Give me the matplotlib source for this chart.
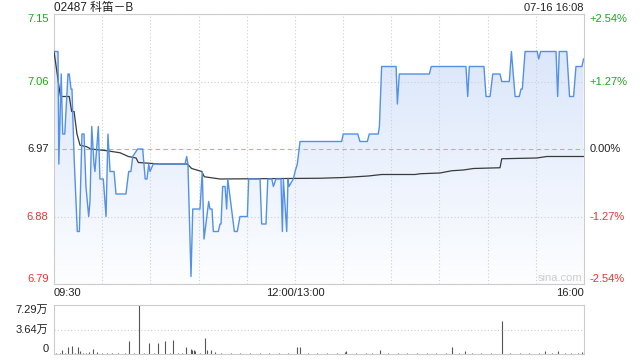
import numpy as np
import matplotlib
matplotlib.use("Agg")
import matplotlib.pyplot as plt
from matplotlib.transforms import blended_transform_factory

plt.rcParams['font.family'] = ['Liberation Sans', 'Noto Sans CJK SC', 'DejaVu Sans']

# intraday price, minutes from 09:30 (lunch break removed, 330 min total)
price_t = [0, 2.5, 3, 4.5, 5.4, 6.7, 8.7, 9.5, 10.6, 11.2, 12.5, 14.5, 15.8, 17.4, 18.7,
           19.9, 21.6, 22.4, 23.5, 24.9, 25.5, 27.6, 28.6, 30.7, 32.4, 33.6, 34.9, 37.4,
           38.6, 44.8, 46.5, 47.9, 49.0, 52.1, 55.2, 56.8, 57.9, 59.0, 59.8, 61.8, 81.6,
           82.6, 83.4, 85.3, 86.4, 90.9, 92.3, 93.4, 94.6, 96.3, 97.1, 98.4, 99.2, 102.3,
           103.4, 104.0, 105.0, 106.5, 107.5, 108.2, 112.3, 114.1, 115.8, 120.4, 121.2,
           128.3, 129.3, 132.0, 133.1, 135.6, 136.6, 138.2, 141.3, 142.2, 142.8, 144.9,
           145.7, 146.3, 149.0, 150.1, 151.5, 153.2, 179.1, 180.1, 189.1, 190.5, 195.1,
           196.3, 201.9, 202.6, 204.0, 213.0, 213.8, 215.0, 233.7, 234.9, 256.5, 257.6,
           258.6, 267.7, 269.0, 271.5, 273.2, 277.7, 278.8, 283.5, 284.8, 287.1, 289.7,
           290.8, 291.6, 293.3, 300.9, 301.8, 303.0, 312.6, 313.6, 314.6, 319.3, 321.0,
           323.5, 325.0, 328.7, 329.7]
price = [7.10, 7.10, 6.95, 7.07, 6.99, 6.99, 7.07, 7.07, 7.05, 7.05, 6.96, 6.86, 6.86, 6.99, 6.99,
         6.92, 6.88, 6.90, 7.00, 6.95, 6.94, 7.00, 6.93, 6.93, 6.88, 6.99, 6.94, 6.94,
         6.91, 6.91, 6.94, 6.94, 6.96, 6.97, 6.97, 6.93, 6.93, 6.95, 6.94, 6.95, 6.95,
         6.96, 6.95, 6.80, 6.89, 6.89, 6.94, 6.85, 6.87, 6.90, 6.89, 6.89, 6.86, 6.86,
         6.87, 6.87, 6.92, 6.92, 6.89, 6.93, 6.86, 6.86, 6.88, 6.88, 6.93,
         6.93, 6.87, 6.87, 6.93, 6.93, 6.92, 6.93, 6.93, 6.86, 6.93, 6.86,
         6.93, 6.92, 6.93, 6.94, 6.95, 6.98, 6.98, 6.99, 6.99, 6.98, 6.98,
         6.99, 6.99, 7.00, 7.08, 7.08, 7.03, 7.07, 7.07, 7.08, 7.08, 7.04,
         7.08, 7.08, 7.04, 7.04, 7.07, 7.07, 7.06, 7.06, 7.10, 7.04, 7.04,
         7.05, 7.05, 7.10, 7.10, 7.09, 7.10, 7.10, 7.04, 7.10, 7.10, 7.04,
         7.04, 7.08, 7.08, 7.09]

avg_t = [0, 4, 5.4, 9.5, 11, 12.5, 14.3, 16.2, 20.4, 22.9, 31.8, 41.1, 46.3, 51.1, 52.5, 66,
         83, 85.7, 92, 93.6, 103.4, 165.6, 180.6, 195.7, 204, 224.8, 227.9, 240.3, 247.6,
         254.9, 261.1, 277.7, 278.8, 300.6, 306.8, 329.6]
avg = [7.10, 7.04, 7.04, 7.04, 7.02, 7.02, 6.99, 6.975, 6.973, 6.97, 6.968, 6.965, 6.96, 6.958,
       6.952, 6.95, 6.95, 6.944, 6.94, 6.933, 6.93, 6.931, 6.932, 6.934, 6.936, 6.936, 6.937,
       6.938, 6.941, 6.942, 6.944, 6.945, 6.957, 6.958, 6.96, 6.96]

# volume in 万 shares
vol_t = [1, 4, 5, 7, 9, 11, 13, 15, 16, 18, 20, 22, 24, 27, 30, 33, 36, 40, 44, 47, 50, 53, 56,
         59, 62, 65, 69, 72, 74, 77, 80, 82, 85, 86, 87, 88, 91, 94, 95, 98, 100, 104, 110,
         116, 122, 128, 134, 140, 146, 151, 153, 158, 164, 170, 176, 181, 182, 188, 194, 198,
         203, 208, 214, 220, 226, 232, 238, 244, 248, 252, 256, 260, 266, 272, 279, 284, 290,
         296, 302, 306, 310, 314, 318, 322, 326, 329]
vol = [0.15, 0.2, 0.64, 0.15, 1.0, 1.2, 0.15, 1.08, 0.5, 0.15, 0.2, 0.25, 0.78, 0.25, 0.15, 0.2,
       0.15, 0.15, 0.2, 2.0, 0.2, 7.29, 0.15, 1.7, 0.2, 1.57, 2.0, 0.2, 2.1, 0.15, 0.2, 1.08,
       0.7, 0.64, 0.64, 0.5, 0.2, 2.4, 0.64, 0.64, 0.25, 0.15, 0.2, 0.15, 0.15, 0.15, 0.2,
       0.15, 0.15, 1.0, 1.08, 0.15, 0.15, 0.15, 0.2, 0.3, 0.5, 0.15, 0.15, 0.2, 0.64, 0.2,
       0.15, 0.15, 0.2, 0.15, 0.15, 0.2, 1.08, 0.2, 0.5, 0.15, 0.2, 0.15, 4.9, 0.15, 0.15,
       0.15, 0.2, 0.5, 0.15, 0.5, 0.15, 0.2, 0.15, 0.3]

prev_close = 6.97
price_ticks = [7.15, 7.06, 6.97, 6.88, 6.79]
pct_labels = ['+2.54%', '+1.27%', '0.00%', '-1.27%', '-2.54%']
tick_colors = ['#1aa81a', '#1aa81a', '#222222', '#f03030', '#f03030']
vol_ticks = [7.29, 3.64, 0]
vol_labels = ['7.29万', '3.64万', '0']

fs = 8
edge_va = ['top', 'center', 'center', 'center', 'bottom']
grid_kw = dict(color='#cfcfcf', linestyle=(0, (1, 2)), linewidth=0.8)

fig = plt.figure(figsize=(6.4, 3.6), dpi=100)
ax = fig.add_axes([54 / 640, 76 / 360, 530 / 640, 270 / 360])
axv = fig.add_axes([54 / 640, 6 / 360, 530 / 640, 49 / 360])

ax.set_xlim(0, 330)
ax.set_ylim(6.79, 7.15)

# gradient fill under price line
grad = np.linspace(0, 1, 256).reshape(-1, 1)
top_c = np.array([0.84, 0.89, 0.98])
bot_c = np.array([0.99, 0.995, 1.0])
img = top_c + (bot_c - top_c) * grad
im = ax.imshow(img.reshape(256, 1, 3), extent=[0, 330, 6.79, 7.15], aspect='auto',
               origin='upper', zorder=1)
poly = ax.fill_between(price_t, price, 6.79, color='none', zorder=1)
im.set_clip_path(poly.get_paths()[0], transform=ax.transData)

ax.plot(price_t, price, color='#5390e8', lw=1.0, zorder=4)
ax.plot(avg_t, avg, color='#3a3a3a', lw=0.9, zorder=3)
ax.axhline(prev_close, color='#f0a07a', lw=0.8, linestyle=(0, (4, 3)), zorder=2)

ax.set_yticks(price_ticks)
ax.set_yticklabels(['%.2f' % v for v in price_ticks], fontsize=fs)
for lbl, c, va in zip(ax.get_yticklabels(), tick_colors, edge_va):
    lbl.set_color(c)
    lbl.set_va(va)
ax.tick_params(axis='y', length=0, pad=4)
ax.set_xticks(range(30, 330, 30))
ax.set_xticklabels([])
ax.tick_params(axis='x', length=0)
ax.grid(True, **grid_kw)
for g in ax.get_ygridlines():
    if abs(g.get_ydata()[0] - prev_close) < 1e-6:
        g.set_visible(False)
for s in ax.spines.values():
    s.set_color('#cccccc')
    s.set_linewidth(0.8)

ax2 = ax.twinx()
ax2.set_ylim(6.79, 7.15)
ax2.set_yticks(price_ticks)
ax2.set_yticklabels(pct_labels, fontsize=fs)
for lbl, c, va in zip(ax2.get_yticklabels(), tick_colors, edge_va):
    lbl.set_color(c)
    lbl.set_va(va)
ax2.tick_params(axis='y', length=0, pad=4)
for s in ax2.spines.values():
    s.set_visible(False)

# time labels
tr = blended_transform_factory(ax.transData, ax.transAxes)
ax.text(0, -0.035, '09:30', transform=tr, ha='left', va='center', fontsize=fs, color='#222222')
ax.text(150, -0.035, '12:00/13:00', transform=tr, ha='center', va='center', fontsize=fs, color='#222222')
ax.text(330, -0.035, '16:00', transform=tr, ha='right', va='center', fontsize=fs, color='#222222')
ax.text(0.955, 0.022, 'sina.com', transform=ax.transAxes, ha='center', va='center',
        fontsize=fs, color='#cccccc')

fig.text(54 / 640, 1 - 8 / 360, '02487 科笛－B', ha='left', va='center', fontsize=8.5, color='#222222')
fig.text(584 / 640, 1 - 8 / 360, '07-16 16:08', ha='right', va='center', fontsize=fs, color='#222222')

# volume panel
axv.set_xlim(0, 330)
axv.set_ylim(0, 7.29)
axv.vlines(vol_t, 0, vol, color='#555555', lw=0.8)
axv.set_yticks(vol_ticks)
axv.set_yticklabels(vol_labels, fontsize=fs, color='#222222')
for lbl, va in zip(axv.get_yticklabels(), ['top', 'center', 'bottom']):
    lbl.set_va(va)
axv.tick_params(axis='y', length=0, pad=4)
axv.set_xticks([])
axv.axhline(3.64, **grid_kw)
for s in axv.spines.values():
    s.set_color('#cccccc')
    s.set_linewidth(0.8)
axv.spines['top'].set_linestyle((0, (1, 1)))
axv.spines['bottom'].set_linestyle((0, (1, 1)))

fig.savefig('out.png', dpi=100)
